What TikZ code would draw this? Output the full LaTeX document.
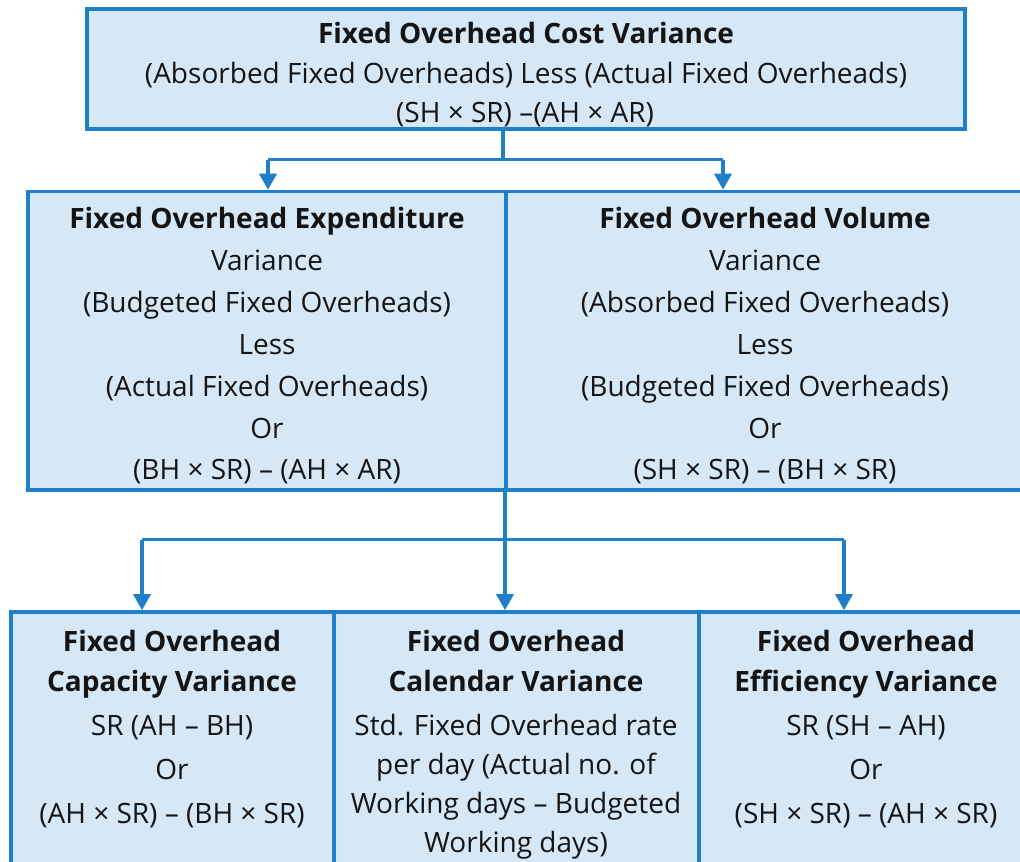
\documentclass[tikz,border=0pt]{standalone}
\usepackage{fontspec}
\setmainfont{Open Sans}
\usetikzlibrary{arrows.meta}
\definecolor{bord}{RGB}{31,128,200}
\definecolor{boxfill}{RGB}{214,232,246}
\definecolor{txt}{RGB}{20,20,20}
\tikzset{
  box/.style={draw=bord, fill=boxfill, line width=3.6pt, rectangle, inner sep=0pt},
  ln/.style={inner sep=0pt, text height=20pt, text depth=0pt, anchor=center, text=txt, font=\fontsize{28}{34}\selectfont},
  bl/.style={ln, font=\fontsize{28}{34}\selectfont\bfseries},
  conn/.style={draw=bord, line width=3.6pt},
  arr/.style={conn, -{Triangle[width=17pt,length=16pt]}},
}
\begin{document}
\begin{tikzpicture}[x=1pt,y=-1pt]
\useasboundingbox (0,0) rectangle (1020,862);
\clip (0,0) rectangle (1020,862);
% boxes
\node[box, minimum width=878pt, minimum height=120pt] (top) at (526,69) {};
\node[box, minimum width=478pt, minimum height=298.5pt] (midL) at (267,340.75) {};
\node[box, minimum width=520pt, minimum height=298.5pt] (midR) at (766,340.75) {};
\node[box, minimum width=323pt, minimum height=278pt] (botL) at (172.5,751) {};
\node[box, minimum width=365pt, minimum height=278pt] (botM) at (516.5,751) {};
\node[box, minimum width=335pt, minimum height=278pt] (botR) at (866.5,751) {};
% top text
\node[bl] (t1) at (526,33) {Fixed Overhead Cost Variance};
\node[ln] (t2) at (526,73) {(Absorbed Fixed Overheads) Less (Actual Fixed Overheads)};
\node[ln] (t3) at (525,112) {(SH × SR) –(AH × AR)};
% middle left
\node[bl] (l1) at (267,218) {Fixed Overhead Expenditure};
\node[ln] (l2) at (267,260) {Variance};
\node[ln] (l3) at (267,302) {(Budgeted Fixed Overheads)};
\node[ln] (l4) at (267,344) {Less};
\node[ln] (l5) at (267,386) {(Actual Fixed Overheads)};
\node[ln] (l6) at (267,428) {Or};
\node[ln] (l7) at (267,469) {(BH × SR) – (AH × AR)};
% middle right
\node[bl] (r1) at (765,218) {Fixed Overhead Volume};
\node[ln] (r2) at (765,260) {Variance};
\node[ln] (r3) at (765,302) {(Absorbed Fixed Overheads)};
\node[ln] (r4) at (765,344) {Less};
\node[ln] (r5) at (765,386) {(Budgeted Fixed Overheads)};
\node[ln] (r6) at (765,428) {Or};
\node[ln] (r7) at (765,469) {(SH × SR) – (BH × SR)};
% bottom left
\node[bl] (a1) at (172,641) {Fixed Overhead};
\node[bl] (a2) at (172,681) {Capacity Variance};
\node[ln] (a3) at (172,725) {SR (AH – BH)};
\node[ln] (a4) at (172,769) {Or};
\node[ln] (a5) at (172,813) {(AH × SR) – (BH × SR)};
% bottom middle
\node[bl] (b1) at (516,641) {Fixed Overhead};
\node[bl] (b2) at (516,681) {Calendar Variance};
\node[ln] (b3) at (516,725) {Std. Fixed Overhead rate};
\node[ln] (b4) at (516,764) {per day (Actual no. of};
\node[ln] (b5) at (516,803) {Working days – Budgeted};
\node[ln] (b6) at (516,842) {Working days)};
% bottom right
\node[bl] (c1) at (866,641) {Fixed Overhead};
\node[bl] (c2) at (866,681) {Efficiency Variance};
\node[ln] (c3) at (866,725) {SR (SH – AH)};
\node[ln] (c4) at (866,769) {Or};
\node[ln] (c5) at (866,813) {(SH × SR) – (AH × SR)};
% connectors
\coordinate (j1) at (503,159.5);
\coordinate (j1l) at (268,159.5);
\coordinate (j1r) at (723,159.5);
\draw[conn] (j1 |- top.south) -- (j1);
\draw[conn] (j1l) -- (j1r);
\draw[arr] (j1l) -- (j1l |- midL.north);
\draw[arr] (j1r) -- (j1r |- midR.north);
\coordinate (j2) at (505,539.5);
\coordinate (j2l) at (142,539.5);
\coordinate (j2r) at (844,539.5);
\draw[conn] (j2 |- midL.south) -- (j2);
\draw[conn] (j2l) -- (j2r);
\draw[arr] (j2l) -- (j2l |- botL.north);
\draw[arr] (j2) -- (j2 |- botM.north);
\draw[arr] (j2r) -- (j2r |- botR.north);
\end{tikzpicture}
\end{document}
